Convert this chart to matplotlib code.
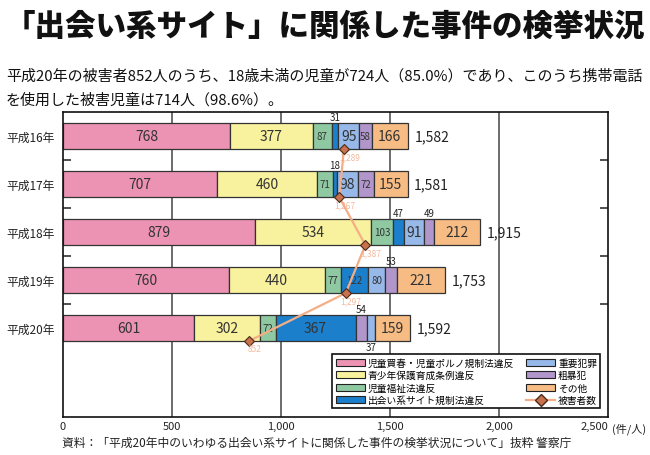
import matplotlib
matplotlib.use('Agg')
import matplotlib.pyplot as plt
from matplotlib.patches import Patch
from matplotlib.lines import Line2D

plt.rcParams['font.family'] = ['Noto Sans CJK JP', 'DejaVu Sans']

# data
years = ['平成16年', '平成17年', '平成18年', '平成19年', '平成20年']
categories = ['児童買春・児童ポルノ規制法違反', '青少年保護育成条例違反', '児童福祉法違反',
              '出会い系サイト規制法違反', '重要犯罪', '粗暴犯', 'その他']
jidou_kaishun = [768, 707, 879, 760, 601]
seishonen = [377, 460, 534, 440, 302]
jidou_fukushi = [87, 71, 103, 77, 72]
deai_kisei = [31, 18, 47, 122, 367]
juyo_hanzai = [95, 98, 91, 80, 37]
sobohan = [58, 72, 49, 53, 54]
sonota = [166, 155, 212, 221, 159]
victims = [1289, 1267, 1387, 1297, 852]
x_ticks = [0, 500, 1000, 1500, 2000, 2500]

series = [jidou_kaishun, seishonen, jidou_fukushi, deai_kisei, juyo_hanzai, sobohan, sonota]
colors = ['#EC93B3', '#F8F29E', '#8FC9A2', '#1C7FCB', '#97B9EA', '#B196CB', '#F6BC84']
# stacking order per year (the 平成20年 bar has 粗暴犯 before 重要犯罪)
stack_order = [[0, 1, 2, 3, 4, 5, 6]] * 4 + [[0, 1, 2, 3, 5, 4, 6]]

fig = plt.figure(figsize=(6.5, 4.56), dpi=100)
ax = fig.add_axes([63 / 650, 1 - 418 / 456, 545 / 650, 305 / 456])

bar_h = 0.54
for i, year in enumerate(years):
    left = 0
    prev_above = None
    for k in stack_order[i]:
        v = series[k][i]
        ax.barh(i, v, left=left, height=bar_h, color=colors[k], edgecolor='#333333',
                linewidth=0.9, zorder=2)
        cx = left + v / 2
        if v < 56:
            # narrow segment: label outside the bar
            if prev_above is not None and cx - prev_above < 80:
                ax.text(cx, i + bar_h / 2 + 0.02, str(v), ha='center', va='top',
                        fontsize=7, color='#222222', zorder=4)
            else:
                ax.text(cx, i - bar_h / 2 - 0.02, str(v), ha='center', va='bottom',
                        fontsize=7, color='#222222', zorder=4)
                prev_above = cx
        else:
            fs = 7 if v < 90 or (v > 99 and v < 130) else 10
            ax.text(cx, i, str(v), ha='center', va='center', fontsize=fs,
                    color='#333333', zorder=4)
        left += v
    ax.text(left + 30, i, f'{left:,}', ha='left', va='center', fontsize=10,
            color='#222222', zorder=4)

# victims line with diamonds at the bottom edge of each bar
vy = [i + bar_h / 2 for i in range(len(years))]
ax.plot(victims, vy, color='#F4AE86', lw=1.6, zorder=5)
ax.plot(victims, vy, ls='none', marker='D', ms=5.5, mfc='#C9714C', mec='#4A2A1A',
        mew=0.8, zorder=6)
for v, y in zip(victims, vy):
    ax.text(v + 25, y + 0.07, f'{v:,}', ha='center', va='top', fontsize=6,
            color='#F2A27E', alpha=0.75, zorder=6)

ax.set_xlim(0, 2500)
ax.set_ylim(5.85, -0.5)
for gx in x_ticks[1:-1]:
    ax.axvline(gx, color='#444444', lw=1.1, zorder=0)

ax.set_xticks(x_ticks)
ax.set_xticklabels([f'{t:,}' for t in x_ticks], fontsize=8, color='#222222')
ax.get_xticklabels()[-1].set_horizontalalignment('right')
ax.tick_params(axis='x', length=0, pad=3)
ax.set_yticks(range(len(years)))
ax.set_yticklabels(years, fontsize=8.5, color='#222222')
ax.tick_params(axis='y', which='major', length=0, pad=6)
ax.set_yticks([0.5, 1.5, 2.5, 3.5], minor=True)
ax.tick_params(axis='y', which='minor', direction='in', length=6, width=1.2,
               left=True, right=True, color='#333333')
for s in ax.spines.values():
    s.set_linewidth(1.2)
    s.set_color('#111111')

ax.text(1.008, -0.036, '(件/人)', transform=ax.transAxes, fontsize=8,
        color='#222222', ha='left', va='center')

handles = [Patch(facecolor=c, edgecolor='#222222', linewidth=0.8) for c in colors]
handles.append(Line2D([], [], color='#F4AE86', lw=1.6, marker='D', ms=6,
                      mfc='#C9714C', mec='#4A2A1A'))
leg = ax.legend(handles, categories + ['被害者数'], ncol=2, loc='lower right',
                bbox_to_anchor=(0.995, 0.012), fontsize=7, handlelength=3.0,
                handleheight=0.75, labelspacing=0.25, columnspacing=1.2,
                borderpad=0.35, handletextpad=0.3, fancybox=False, framealpha=1)
leg.get_frame().set_edgecolor('#111111')
leg.get_frame().set_linewidth(1.2)
leg.set_zorder(10)

fig.text(0.5, 1 - 26 / 456, '「出会い系サイト」に関係した事件の検挙状況', ha='center',
         va='center', fontsize=22, fontweight='black', color='#111111')
fig.text(6 / 650, 1 - 76 / 456,
         '平成20年の被害者852人のうち、18歳未満の児童が724人（85.0%）であり、このうち携帯電話',
         ha='left', va='center', fontsize=10.8, color='#111111')
fig.text(6 / 650, 1 - 100 / 456, 'を使用した被害児童は714人（98.6%）。',
         ha='left', va='center', fontsize=10.8, color='#111111')
fig.text(62 / 650, 1 - 443 / 456,
         '資料：「平成20年中のいわゆる出会い系サイトに関係した事件の検挙状況について」抜粋 警察庁',
         ha='left', va='center', fontsize=8.5, color='#222222')

fig.savefig('out.png', dpi=100)
